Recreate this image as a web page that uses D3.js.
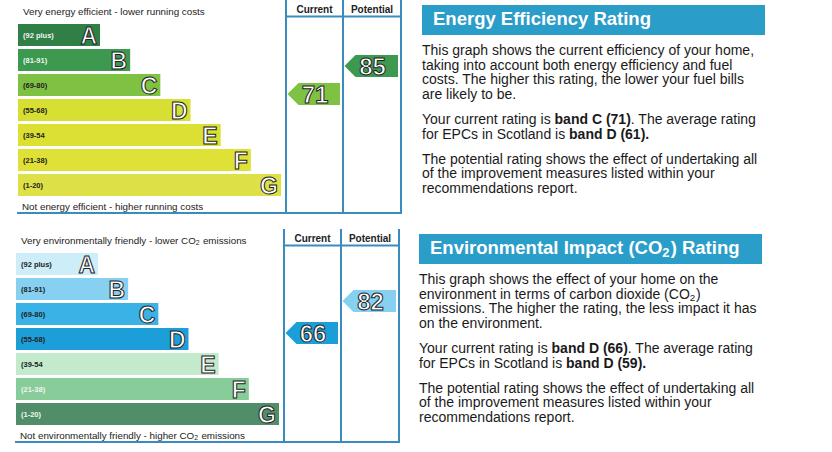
<!DOCTYPE html>
<html>
<head>
<meta charset="utf-8">
<script src="https://cdn.jsdelivr.net/npm/d3@7"></script>
<style>
  body { margin: 0; background: #fff; }
  svg { display: block; font-family: "Liberation Sans", Arial, sans-serif; }
</style>
</head>
<body>
<script>
// ---- data ----
var bands = ["A", "B", "C", "D", "E", "F", "G"];
var bandRanges = ["(92 plus)", "(81-91)", "(69-80)", "(55-68)", "(39-54", "(21-38)", "(1-20)"];
var bandMin = [92, 81, 69, 55, 39, 21, 1];

var energyColors = ["#2f7f47", "#3c994f", "#7fc243", "#d6df32", "#dbe033", "#dfe137", "#dde046"];
var envColors = ["#cdedf9", "#86d1f1", "#3bb2e6", "#1c9fd9", "#c3eacd", "#87cc99", "#4f8e68"];

var energyCurrent = 71, energyPotential = 85;
var envCurrent = 66, envPotential = 82;

var columnTitles = ["Current", "Potential"];

var energyTitle = "Energy Efficiency Rating";
var envTitle = "Environmental Impact (CO2) Rating";

var energyText = [
  ["This graph shows the current efficiency of your home,",
   "taking into account both energy efficiency and fuel",
   "costs. The higher this rating, the lower your fuel bills",
   "are likely to be."],
  ["Your current rating is **band C (71)**. The average rating",
   "for EPCs in Scotland is **band D (61).**"],
  ["The potential rating shows the effect of undertaking all",
   "of the improvement measures listed within your",
   "recommendations report."]
];
var envText = [
  ["This graph shows the effect of your home on the",
   "environment in terms of carbon dioxide (CO2)",
   "emissions. The higher the rating, the less impact it has",
   "on the environment."],
  ["Your current rating is **band D (66)**. The average rating",
   "for EPCs in Scotland is **band D (59).**"],
  ["The potential rating shows the effect of undertaking all",
   "of the improvement measures listed within your",
   "recommendations report."]
];

// ---- drawing ----
var svg = d3.select("body").append("svg")
    .attr("width", 832)
    .attr("height", 452);

var lineBlue = "#3a8cbf";

// writes a string into a text node, **bold** parts and CO2 subscripts
function richText(textSel, str, size) {
  var parts = str.split(/(\*\*.*?\*\*|CO2)/).filter(function (s) { return s.length; });
  var shift = 0;
  parts.forEach(function (p) {
    var ts;
    if (p.startsWith("**")) {
      ts = textSel.append("tspan").attr("font-weight", "bold").text(p.slice(2, -2));
    } else if (p == "CO2") {
      ts = textSel.append("tspan").text("CO");
    } else {
      ts = textSel.append("tspan").text(p);
    }
    if (shift) { ts.attr("dy", shift).attr("dx", size * 0.06); shift = 0; }
    if (p == "CO2") {
      textSel.append("tspan").attr("font-size", size * 0.7).attr("dy", size * 0.15).text("2");
      shift = -size * 0.15;
    }
  });
}

function bandOf(v) {
  return bands[bandMin.findIndex(function (m) { return v >= m; })];
}

function drawScale(cfg) {
  var g = svg.append("g").attr("transform", "translate(" + cfg.dx + "," + cfg.dy + ")");

  var y = d3.scaleBand().domain(bands).range([24, 196]).paddingInner(0.12);
  var w = d3.scaleLinear().domain([0, 6]).range([82, 263]);
  var color = d3.scaleOrdinal(bands, cfg.colors);
  var yv = d3.scaleLinear().domain([0, 100]).range([236, 36]);
  var cols = [286, 343, 401];

  // top and bottom captions
  var top = g.append("text").attr("x", 23).attr("y", 15).attr("font-size", 9.8).attr("fill", "#222");
  richText(top, cfg.topCaption, 9.8);
  var bot = g.append("text").attr("x", 22).attr("y", 210).attr("font-size", 9.8).attr("fill", "#222");
  richText(bot, cfg.bottomCaption, 9.8);

  var rows = g.selectAll(".band")
      .data(bands)
      .enter()
      .append("g")
      .attr("class", "band");

  rows.append("rect")
      .attr("x", 18)
      .attr("y", function (d) { return y(d); })
      .attr("width", function (d, i) { return w(i); })
      .attr("height", y.bandwidth())
      .attr("fill", function (d) { return color(d); });

  rows.append("text")
      .attr("x", 23)
      .attr("y", function (d) { return y(d) + y.bandwidth() / 2 + 3; })
      .attr("font-size", 7.5)
      .attr("font-weight", "bold")
      .attr("fill", function (d) { return cfg.lightLabels.indexOf(d) >= 0 ? "#eef5ee" : "#222"; })
      .text(function (d, i) { return bandRanges[i]; });

  rows.append("text")
      .attr("x", function (d, i) { return 18 + w(i) - 3; })
      .attr("y", function (d) { return y(d) + y.bandwidth() - 2; })
      .attr("text-anchor", "end")
      .attr("font-size", 23)
      .attr("font-weight", "bold")
      .attr("fill", "#fff")
      .attr("stroke", "#222")
      .attr("stroke-width", 1)
      .text(function (d) { return d; });

  // column frame
  g.selectAll(".col")
      .data(cols)
      .enter()
      .append("line")
      .attr("x1", function (d) { return d; })
      .attr("x2", function (d) { return d; })
      .attr("y1", 0)
      .attr("y2", 213)
      .attr("stroke", lineBlue)
      .attr("stroke-width", 2);
  g.append("line")
      .attr("x1", cols[0]).attr("x2", cols[2])
      .attr("y1", 16.5).attr("y2", 16.5)
      .attr("stroke", lineBlue).attr("stroke-width", 2);
  g.append("line")
      .attr("x1", 17).attr("x2", cols[2] + 1)
      .attr("y1", 213).attr("y2", 213)
      .attr("stroke", lineBlue).attr("stroke-width", 2);

  g.selectAll(".colTitle")
      .data(columnTitles)
      .enter()
      .append("text")
      .attr("x", function (d, i) { return (cols[i] + cols[i + 1]) / 2; })
      .attr("y", 12.5)
      .attr("text-anchor", "middle")
      .attr("font-size", 10)
      .attr("font-weight", "bold")
      .attr("fill", "#222")
      .text(function (d) { return d; });

  // rating arrows
  var ratings = [cfg.current, cfg.potential];
  var arrows = g.selectAll(".arrow")
      .data(ratings)
      .enter()
      .append("g")
      .attr("class", "arrow");

  arrows.append("path")
      .attr("d", function (v, i) {
        var x0 = cols[i] + 1.5, x1 = cols[i + 1] - 3;
        var yc = yv(v), h = 11;
        return "M" + x0 + "," + yc + "L" + (x0 + 11) + "," + (yc - h) + "L" + x1 + "," + (yc - h) +
               "L" + x1 + "," + (yc + h) + "L" + (x0 + 11) + "," + (yc + h) + "Z";
      })
      .attr("fill", function (v) { return color(bandOf(v)); });

  arrows.append("text")
      .attr("x", function (v, i) { return (cols[i] + cols[i + 1]) / 2 + 0.5; })
      .attr("y", function (v) { return yv(v) + 8.5; })
      .attr("text-anchor", "middle")
      .attr("font-size", 24)
      .attr("font-weight", "bold")
      .attr("fill", "#fff")
      .attr("stroke", "#222")
      .attr("stroke-width", 1)
      .text(function (v) { return v; });
}

function drawInfo(cfg) {
  var g = svg.append("g").attr("transform", "translate(" + cfg.dx + "," + cfg.dy + ")");

  g.append("rect")
      .attr("x", 422).attr("y", 5)
      .attr("width", 343).attr("height", 30)
      .attr("fill", "#2a9dc8");
  var title = g.append("text")
      .attr("x", 433).attr("y", 25)
      .attr("font-size", 18.5)
      .attr("font-weight", "bold")
      .attr("fill", "#fff");
  richText(title, cfg.title, 18.5);

  var lineH = 14.6, gap = 10.5, yy = 55;
  cfg.paragraphs.forEach(function (para) {
    para.forEach(function (line) {
      var t = g.append("text")
          .attr("x", 422).attr("y", yy)
          .attr("font-size", 14)
          .attr("fill", "#1a1a1a");
      richText(t, line, 14);
      yy += lineH;
    });
    yy += gap;
  });
}

drawScale({
  dx: 0, dy: 0,
  colors: energyColors,
  lightLabels: ["A", "B"],
  current: energyCurrent, potential: energyPotential,
  topCaption: "Very energy efficient - lower running costs",
  bottomCaption: "Not energy efficient - higher running costs"
});
drawScale({
  dx: -2, dy: 229,
  colors: envColors,
  lightLabels: ["F", "G"],
  current: envCurrent, potential: envPotential,
  topCaption: "Very environmentally friendly - lower CO2 emissions",
  bottomCaption: "Not environmentally friendly - higher CO2 emissions"
});

drawInfo({ dx: 0, dy: 0, title: energyTitle, paragraphs: energyText });
drawInfo({ dx: -3, dy: 229, title: envTitle, paragraphs: envText });
</script>
</body>
</html>
